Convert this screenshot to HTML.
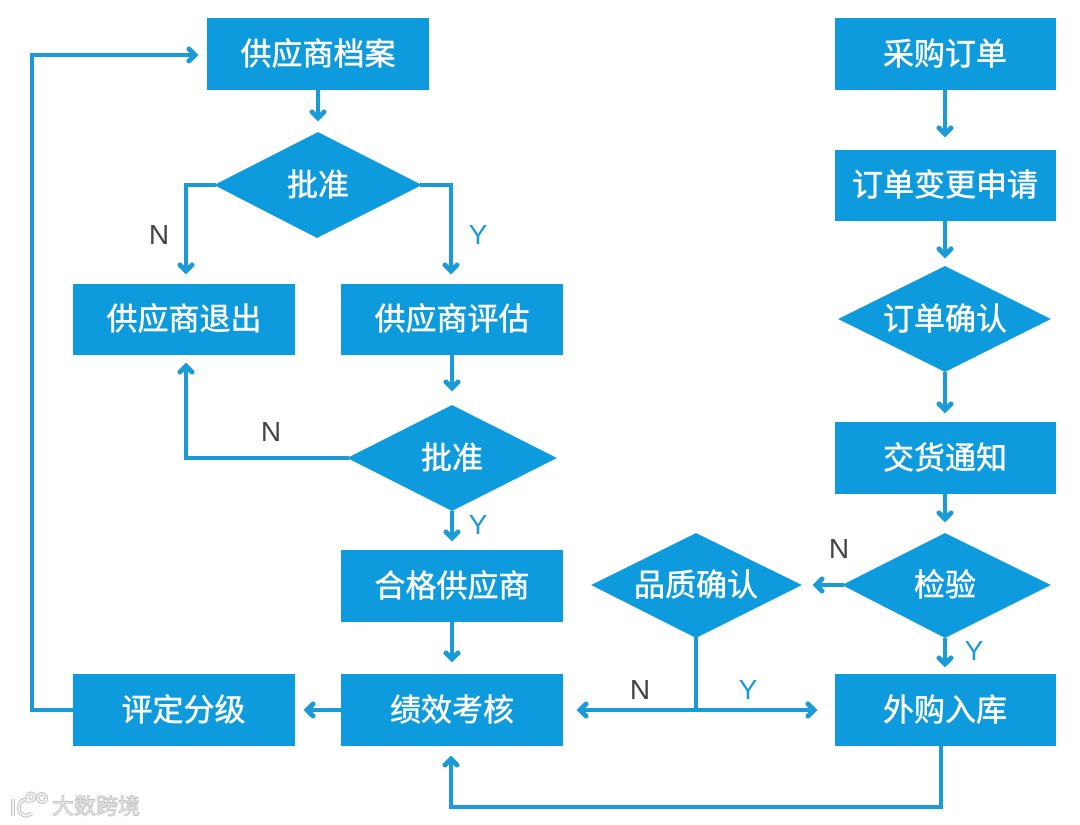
<!DOCTYPE html>
<html><head><meta charset="utf-8">
<style>
html,body{margin:0;padding:0;background:#fff;width:1080px;height:825px;overflow:hidden}
svg{display:block}
.b{fill:#0e9bde}
.t{font-family:"Liberation Sans","Noto Sans CJK SC",sans-serif;font-size:31px;fill:#fff;stroke:#fff;stroke-width:.5;text-anchor:middle;font-weight:400}
.l{font-family:"Liberation Sans",sans-serif;font-size:28px;text-anchor:middle}
.c{fill:none;stroke:#1a9bd8;stroke-width:4}
.h{fill:none;stroke:#1a9bd8;stroke-width:5;stroke-linecap:round;stroke-linejoin:miter}
</style></head><body>
<svg width="1080" height="825" viewBox="0 0 1080 825" xmlns="http://www.w3.org/2000/svg">
<!-- boxes -->
<rect class="b" x="207" y="18" width="222" height="72"/>
<rect class="b" x="835" y="18" width="221" height="72"/>
<rect class="b" x="835" y="150" width="221" height="71"/>
<rect class="b" x="73" y="284" width="222" height="71"/>
<rect class="b" x="341" y="284" width="222" height="71"/>
<rect class="b" x="835" y="422" width="221" height="72"/>
<rect class="b" x="341" y="550" width="222" height="72"/>
<rect class="b" x="73" y="674" width="222" height="72"/>
<rect class="b" x="341" y="674" width="222" height="72"/>
<rect class="b" x="835" y="674" width="221" height="72"/>
<!-- diamonds -->
<polygon class="b" points="318,132 422,185 317,238 214,185"/>
<polygon class="b" points="452,405 557,458 452,511 347,458"/>
<polygon class="b" points="945,266 1051,319 945,372 838,319"/>
<polygon class="b" points="696,533 802,585 696,638 591,585"/>
<polygon class="b" points="945,533 1051,585 945,638 842,585"/>
<!-- connectors -->
<path class="c" d="M318 90V118"/><path class="h" d="M312 112L318 118L324 112"/>
<path class="c" d="M216 185H186V271"/><path class="h" d="M180 265L186 271L192 265"/>
<path class="c" d="M420 185H451V271"/><path class="h" d="M445 265L451 271L457 265"/>
<path class="c" d="M452 355V388"/><path class="h" d="M446 382L452 388L458 382"/>
<path class="c" d="M349 458H186V366"/><path class="h" d="M180 372L186 366L192 372"/>
<path class="c" d="M452 511V538"/><path class="h" d="M446 532L452 538L458 532"/>
<path class="c" d="M452 622V659"/><path class="h" d="M446 653L452 659L458 653"/>
<path class="c" d="M341 710H307"/><path class="h" d="M313 704L307 710L313 716"/>
<path class="c" d="M73 710H32V55H195"/><path class="h" d="M189 49L195 55L189 61"/>
<path class="c" d="M945 90V134"/><path class="h" d="M939 128L945 134L951 128"/>
<path class="c" d="M945 221V255"/><path class="h" d="M939 249L945 255L951 249"/>
<path class="c" d="M945 372V410"/><path class="h" d="M939 404L945 410L951 404"/>
<path class="c" d="M945 494V519"/><path class="h" d="M939 513L945 519L951 513"/>
<path class="c" d="M844 585H816"/><path class="h" d="M822 579L816 585L822 591"/>
<path class="c" d="M945 638V664"/><path class="h" d="M939 658L945 664L951 658"/>
<path class="c" d="M696 637V710"/>
<path class="c" d="M580 710H813"/>
<path class="h" d="M586 704L580 710L586 716"/>
<path class="h" d="M808 704L814 710L808 716"/>
<path class="c" d="M941 746V807H451V759"/><path class="h" d="M445 765L451 759L457 765"/>
<!-- box labels -->
<text class="t" x="318" y="65">供应商档案</text>
<text class="t" x="945" y="65">采购订单</text>
<text class="t" x="945" y="196">订单变更申请</text>
<text class="t" x="318" y="196">批准</text>
<text class="t" x="184" y="330">供应商退出</text>
<text class="t" x="452" y="330">供应商评估</text>
<text class="t" x="945" y="330">订单确认</text>
<text class="t" x="452" y="469">批准</text>
<text class="t" x="945" y="469">交货通知</text>
<text class="t" x="452" y="597">合格供应商</text>
<text class="t" x="696" y="596">品质确认</text>
<text class="t" x="945" y="596">检验</text>
<text class="t" x="183.5" y="721">评定分级</text>
<text class="t" x="452" y="721">绩效考核</text>
<text class="t" x="945" y="721">外购入库</text>
<!-- branch labels -->
<text class="l" x="159" y="244" fill="#444">N</text>
<text class="l" x="478" y="244" fill="#1a9bd8">Y</text>
<text class="l" x="271" y="441" fill="#444">N</text>
<text class="l" x="478" y="534" fill="#1a9bd8">Y</text>
<text class="l" x="839" y="558" fill="#444">N</text>
<text class="l" x="974" y="660" fill="#1a9bd8">Y</text>
<text class="l" x="640" y="699" fill="#444">N</text>
<text class="l" x="748" y="699" fill="#1a9bd8">Y</text>
<!-- watermark -->
<g fill="none" stroke="#c8c8c8" stroke-width="4">
<path d="M13 799V816"/>
<path d="M30 803C26 797 19 800 19 808C19 815 26 818 32 813"/>
<circle cx="31" cy="797" r="3.5"/><circle cx="42" cy="798" r="4"/>
</g>
<g fill="none" stroke="#f4f4f4" stroke-width="1.8">
<path d="M13 799V816"/>
<path d="M30 803C26 797 19 800 19 808C19 815 26 818 32 813"/>
<circle cx="31" cy="797" r="3.5"/><circle cx="42" cy="798" r="4"/>
</g>
<text x="52" y="814" font-family="'Liberation Sans','Noto Sans CJK SC',sans-serif" font-size="22" fill="#eeeeee" stroke="#c6c6c6" stroke-width=".9" textLength="88">大数跨境</text>
</svg>
</body></html>
